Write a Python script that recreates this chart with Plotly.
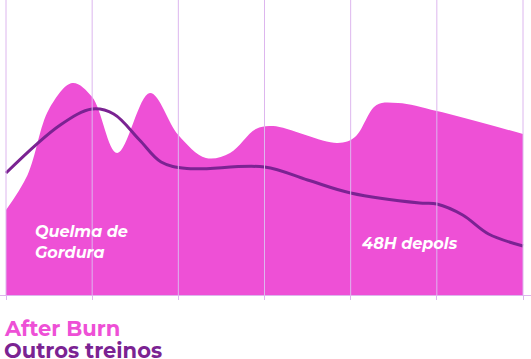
import plotly.graph_objects as go

# Data (x in category units 0..6, values on 0..295 scale)
area_x = [0, 0.25, 0.5, 0.77, 1.0, 1.29, 1.67, 2.0, 2.32, 2.6, 2.9, 3.1, 3.85, 4.05, 4.3, 4.55, 5.0, 6.0]
area_y = [85, 120, 186, 212, 198, 142, 202, 160, 137, 142, 166, 169, 152, 158, 190, 192, 184, 161]

line_x = [0, 0.63, 1.0, 1.25, 1.55, 1.8, 2.1, 3.0, 3.5, 4.0, 4.8, 5.0, 5.3, 5.6, 6.0]
line_y = [122, 170, 186, 181, 155, 133, 126.5, 128, 115, 102, 92, 91, 80, 61, 49]

tick_vals = [0, 1, 2, 3, 4, 5, 6]

pink = "#EE50D6"
purple = "#7B2392"
grid = "#DDB6EE"

fig = go.Figure()
fig.add_trace(go.Scatter(x=area_x, y=area_y, mode="lines", fill="tozeroy",
                         line=dict(color=pink, width=0, shape="spline", smoothing=1.0),
                         fillcolor=pink, hoverinfo="skip", showlegend=False))
fig.add_trace(go.Scatter(x=line_x, y=line_y, mode="lines",
                         line=dict(color=purple, width=3, shape="spline", smoothing=1.0),
                         hoverinfo="skip", showlegend=False))

for v in tick_vals:
    fig.add_shape(type="line", xref="x", yref="paper", x0=v, x1=v, y0=0, y1=1,
                  line=dict(color=grid, width=1), layer="above")

font_fam = "Montserrat, Lato, Open Sans, sans-serif"
fig.add_annotation(x=0.31, y=53, xref="x", yref="y", text="<b><i>Quelma de<br>Gordura</i></b>",
                   showarrow=False, xanchor="left", yanchor="middle", align="left",
                   font=dict(family=font_fam, size=16, color="white"))
fig.add_annotation(x=4.11, y=52, xref="x", yref="y", text="<b><i>48H depols</i></b>",
                   showarrow=False, xanchor="left", yanchor="middle",
                   font=dict(family=font_fam, size=16, color="white"))
fig.add_annotation(x=0.004, y=-0.115, xref="paper", yref="paper", text="<b>After Burn</b>",
                   showarrow=False, xanchor="left", yanchor="middle",
                   font=dict(family=font_fam, size=21, color=pink))
fig.add_annotation(x=0.004, y=-0.189, xref="paper", yref="paper", text="<b>Outros treinos</b>",
                   showarrow=False, xanchor="left", yanchor="middle",
                   font=dict(family=font_fam, size=21, color=purple))

fig.update_layout(
    width=531, height=359,
    margin=dict(l=0, r=0, t=0, b=64),
    paper_bgcolor="white", plot_bgcolor="white",
    xaxis=dict(range=[-0.0696, 6.0928], showgrid=False,
               tickvals=tick_vals, showticklabels=False, ticks="outside",
               ticklen=4, tickcolor=grid, showline=True, linecolor=grid, linewidth=1,
               zeroline=False, layer="above traces"),
    yaxis=dict(range=[0, 295], showgrid=False, showticklabels=False, zeroline=False,
               showline=False),
)

fig.write_html("out.html")
